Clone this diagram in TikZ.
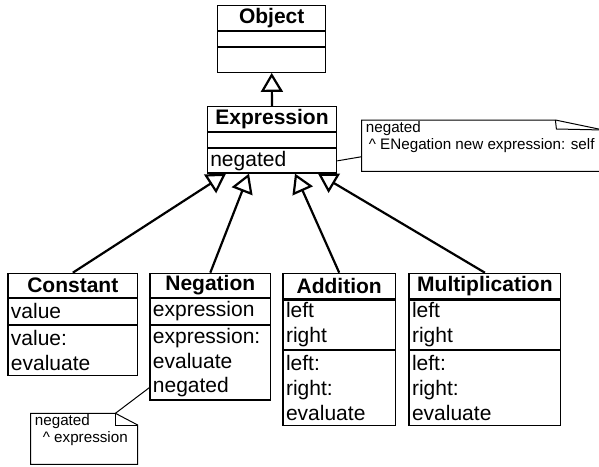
\documentclass[tikz,border=0pt]{standalone}
\usepackage{fontspec}
\setmainfont{Liberation Sans}
\usetikzlibrary{positioning,arrows.meta}

\newcommand{\umlfont}{\fontsize{21}{24.7}\selectfont}
\newcommand{\notefont}{\fontsize{15.2}{17}\selectfont}

\tikzstyle{compart} = [
        draw,
        rectangle,
        line width=1.2pt,
        inner xsep=3pt,
        inner ysep=0pt,
        align=left,
        font=\umlfont
    ]
\tikzstyle{ctitle} = [compart, align=center, font=\umlfont\bfseries]
\tikzstyle{note} = [inner xsep=4pt, inner ysep=1pt, anchor=north west, font=\notefont]
\tikzstyle{gen} = [line width=2.2pt, -{Triangle[open, length=19pt, width=22pt]}]

\begin{document}
\begin{tikzpicture}[x=1pt, y=1pt]
        \useasboundingbox (0,0) rectangle (599,-466);
        % root classes
        \node(objt) [ctitle, anchor=north, text width=102pt, minimum height=25.3pt] at (271.7,-4.7) {Object};
        \node(obja) [compart, text width=102pt, minimum height=14.3pt, below=0pt of objt] {};
        \node(objm) [compart, text width=102pt, minimum height=25pt, below=0pt of obja] {};
        \node(exprt) [ctitle, anchor=north, text width=123.4pt, minimum height=25pt] at (272,-106) {Expression};
        \node(expra) [compart, text width=123.4pt, minimum height=14.7pt, below=0pt of exprt] {};
        \node(exprm) [compart, text width=123.4pt, minimum height=24.3pt, below=0pt of expra] {negated};
        % subclasses
        \node(cnstt) [ctitle, anchor=north, text width=123.7pt, minimum height=24pt] at (72.8,-272.7) {Constant};
        \node(cnsta) [compart, text width=123.7pt, minimum height=25.6pt, below=0pt of cnstt] {value};
        \node(cnstm) [compart, text width=123.7pt, minimum height=50pt, below=0pt of cnsta] {value:\\evaluate};
        \node(negt) [ctitle, anchor=north, text width=114.7pt, minimum height=24pt] at (210.3,-272.7) {Negation};
        \node(nega) [compart, text width=114.7pt, minimum height=25.6pt, below=0pt of negt] {expression};
        \node(negm) [compart, text width=114.7pt, minimum height=74.7pt, below=0pt of nega] {expression:\\evaluate\\negated};
        \node(addt) [ctitle, anchor=north, text width=106.3pt, minimum height=25.6pt] at (339.2,-272.7) {Addition};
        \node(adda) [compart, text width=106.3pt, minimum height=49pt, below=0pt of addt] {left\\right};
        \node(addm) [compart, text width=106.3pt, minimum height=75pt, below=0pt of adda] {left:\\right:\\evaluate};
        \node(mult) [ctitle, anchor=north, text width=145.7pt, minimum height=25.6pt] at (484.9,-272.7) {Multiplication};
        \node(mula) [compart, text width=145.7pt, minimum height=49pt, below=0pt of mult] {left\\right};
        \node(mulm) [compart, text width=145.7pt, minimum height=75pt, below=0pt of mula] {left:\\right:\\evaluate};
        % notes
        \node(nt1) [note] at (361.7,-120) {\parbox[c][49pt][t]{233.3pt}{negated\\\hspace*{3pt}\textasciicircum{} ENegation new expression: self}};
        \node(nt2) [note] at (30.7,-413.3) {\parbox[c][48.7pt][t]{98.6pt}{negated\\\hspace*{8pt}\textasciicircum{} expression}};
        \draw[line width=1pt] (nt1.north west) -- ([xshift=-48pt]nt1.north east) -- ([yshift=-10pt]nt1.north east) -- (nt1.south east) -- (nt1.south west) -- cycle;
        \draw[line width=1pt] ([xshift=-48pt]nt1.north east) -- ([xshift=-47pt, yshift=-9pt]nt1.north east) -- ([yshift=-10pt]nt1.north east);
        \draw[line width=1pt] (nt2.north west) -- ([xshift=-22.3pt]nt2.north east) -- ([yshift=-11.7pt]nt2.north east) -- (nt2.south east) -- (nt2.south west) -- cycle;
        \draw[line width=1pt] ([xshift=-22.3pt]nt2.north east) -- ([xshift=-22.3pt, yshift=-11.7pt]nt2.north east) -- ([yshift=-11.7pt]nt2.north east);
        \draw[line width=1pt] (exprm.east) -- ([yshift=-11pt]nt1.west);
        \draw[line width=1pt] ([xshift=-22.3pt]nt2.north east) -- ([yshift=-25pt]negm.west);
        % generalizations
        \draw[gen] (exprt.north) -- (objm.south);
        \draw[gen] (cnstt.north) -- ([xshift=-46pt]exprm.south);
        \draw[gen] (negt.north) -- ([xshift=-23pt]exprm.south);
        \draw[gen] (addt.north) -- ([xshift=23pt]exprm.south);
        \draw[gen] (mult.north) -- ([xshift=46pt]exprm.south);
    \end{tikzpicture}
\end{document}
